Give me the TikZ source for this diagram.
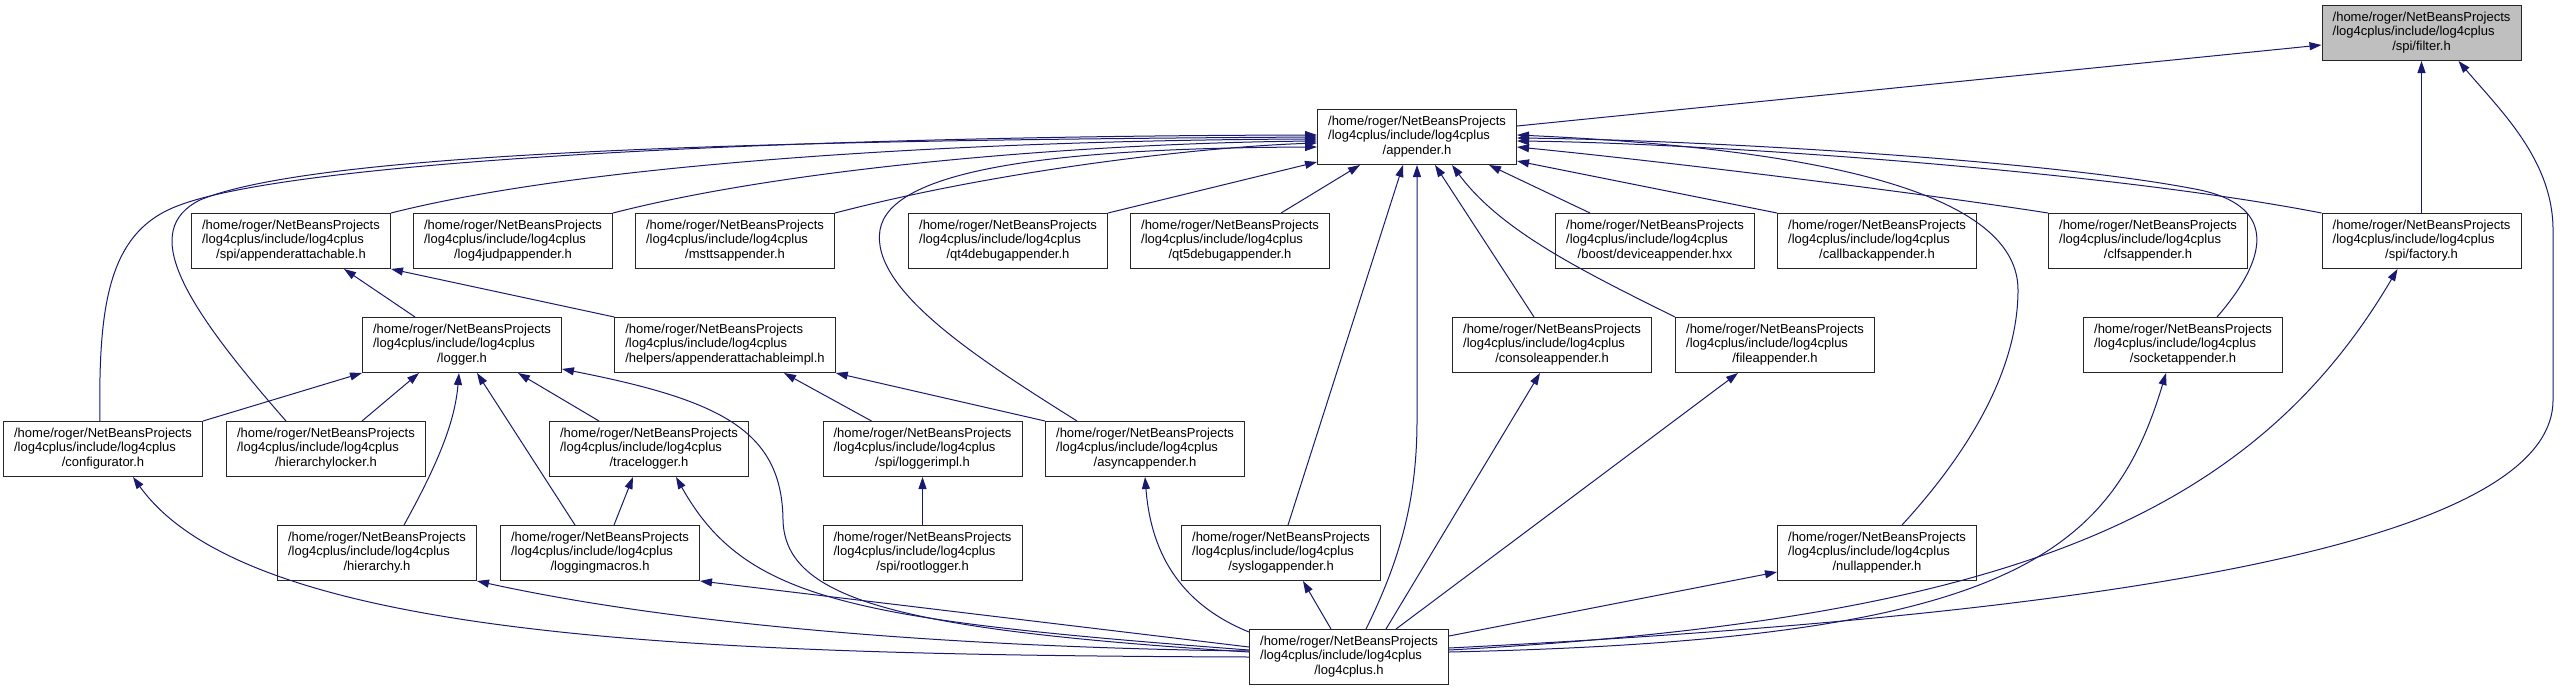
\documentclass[tikz,border=0pt]{standalone}
\usepackage{fontspec}
\setmainfont{Liberation Sans}
\usetikzlibrary{arrows.meta,calc}

\definecolor{edgeblue}{RGB}{25,25,112}
\definecolor{curgray}{RGB}{191,191,191}

% three line doxygen label, last line centred
\newcommand{\hpath}[1]{\begin{tabular}{@{}l@{}}/home/roger/NetBeansProjects\\/log4cplus/include/log4cplus\\\multicolumn{1}{@{}c@{}}{#1}\end{tabular}}

\tikzset{
  hdrbox/.style={draw=black!85, line width=1pt, fill=white, minimum width=199pt,
    minimum height=55pt, inner xsep=10.5pt, inner ysep=0pt,
    font=\fontsize{13}{14.8}\selectfont},
  cur/.style={hdrbox, fill=curgray},
  incl/.style={draw=edgeblue, line width=1pt,
    -{Triangle[length=12pt,width=8pt]}, color=edgeblue}
}

\begin{document}
\begin{tikzpicture}[x=1pt, y=-1pt]
    \useasboundingbox (0,0) rectangle (2563,691);
    % rows
    \node[cur] (filter) at (2421.5, 33) {\hpath{/spi/filter.h}};
    \node[hdrbox] (appender) at (1417, 137) {\hpath{/appender.h}};
    \node[hdrbox] (attachable) at (291, 241) {\hpath{/spi/appenderattachable.h}};
    \node[hdrbox] (udp) at (513, 241) {\hpath{/log4judpappender.h}};
    \node[hdrbox] (mstts) at (735, 241) {\hpath{/msttsappender.h}};
    \node[hdrbox] (qtfour) at (1008, 241) {\hpath{/qt4debugappender.h}};
    \node[hdrbox] (qtfive) at (1230, 241) {\hpath{/qt5debugappender.h}};
    \node[hdrbox] (device) at (1655, 241) {\hpath{/boost/deviceappender.hxx}};
    \node[hdrbox] (callback) at (1877, 241) {\hpath{/callbackappender.h}};
    \node[hdrbox] (clfs) at (2148, 241) {\hpath{/clfsappender.h}};
    \node[hdrbox] (factory) at (2421.5, 241) {\hpath{/spi/factory.h}};
    \node[hdrbox] (logger) at (462, 345) {\hpath{/logger.h}};
    \node[hdrbox] (attimpl) at (725, 345) {\hpath{/helpers/appenderattachableimpl.h}};
    \node[hdrbox] (console) at (1552, 345) {\hpath{/consoleappender.h}};
    \node[hdrbox] (fileapp) at (1775, 345) {\hpath{/fileappender.h}};
    \node[hdrbox] (socket) at (2183, 345) {\hpath{/socketappender.h}};
    \node[hdrbox] (configurator) at (103, 449) {\hpath{/configurator.h}};
    \node[hdrbox] (hlocker) at (326, 449) {\hpath{/hierarchylocker.h}};
    \node[hdrbox] (tracelogger) at (649, 449) {\hpath{/tracelogger.h}};
    \node[hdrbox] (loggerimpl) at (922.5, 449) {\hpath{/spi/loggerimpl.h}};
    \node[hdrbox] (async) at (1145, 449) {\hpath{/asyncappender.h}};
    \node[hdrbox] (hierarchy) at (377, 553) {\hpath{/hierarchy.h}};
    \node[hdrbox] (macros) at (600, 553) {\hpath{/loggingmacros.h}};
    \node[hdrbox] (rootlogger) at (922.5, 553) {\hpath{/spi/rootlogger.h}};
    \node[hdrbox] (syslog) at (1281, 553) {\hpath{/syslogappender.h}};
    \node[hdrbox] (nullapp) at (1877, 553) {\hpath{/nullappender.h}};
    \node[hdrbox] (logplus) at (1349, 657) {\hpath{/log4cplus.h}};

    % into filter.h
    \draw[incl] ($(appender.east)+(0,-11)$) -- ($(filter.west)+(0,12)$);
    \draw[incl] (factory.north) -- (filter.south);
    \draw[incl] ($(logplus.east)+(0,-9)$) .. controls (2000,620) and (2553,560) .. (2553,400)
      -- (2553,230) .. controls (2553,160) and (2500,110) .. ($(filter.south)+(37,0)$);

    % into appender.h
    \draw[incl] (attachable.north east) .. controls (600,160) and (1000,140) .. ($(appender.west)+(0,2)$);
    \draw[incl] (udp.north east) .. controls (800,165) and (1100,143) .. ($(appender.west)+(0,4)$);
    \draw[incl] (mstts.north east) .. controls (1000,170) and (1200,147) .. ($(appender.west)+(0,6)$);
    \draw[incl] (qtfour.north east) -- ($(appender.south west)+(0,-3)$);
    \draw[incl] ($(qtfive.north)+(51,0)$) -- ($(appender.south)+(-57,0)$);
    \draw[incl] ($(device.north west)+(35,0)$) -- ($(appender.south)+(72,0)$);
    \draw[incl] (callback.north west) -- ($(appender.south east)+(0,-4)$);
    \draw[incl] (clfs.north west) .. controls (1900,190) and (1650,160) .. ($(appender.east)+(0,10)$);
    \draw[incl] (factory.north west) .. controls (2100,170) and (1700,143) .. ($(appender.east)+(0,4)$);
    \draw[incl] ($(socket.north)+(34,0)$) .. controls (2275,250) and (2270,205) .. (2200,190)
      .. controls (2050,160) and (1700,140) .. ($(appender.east)+(0,1)$);
    \draw[incl] ($(nullapp.north)+(25,0)$) .. controls (1980,440) and (2018,360) .. (2018,290)
      .. controls (2018,200) and (1850,150) .. ($(appender.east)+(0,-2)$);
    \draw[incl] ($(console.north)+(-18,0)$) -- ($(appender.south)+(18,0)$);
    \draw[incl] (fileapp.north west) .. controls (1580,270) and (1500,230) .. ($(appender.south)+(35,0)$);
    \draw[incl] ($(syslog.north)+(7,0)$) -- ($(appender.south)+(-14,0)$);
    \draw[incl] ($(logplus.north)+(17,0)$) .. controls (1400,560) and (1417,500) .. (1417,420) -- (appender.south);
    \draw[incl] ($(configurator.north)+(-3,0)$) .. controls (98,300) and (110,230) .. (180,205)
      .. controls (300,160) and (800,136) .. ($(appender.west)+(0,-2)$);
    \draw[incl] ($(hlocker.north)+(-40,0)$) .. controls (180,300) and (140,230) .. (200,200)
      .. controls (320,150) and (800,140) .. (appender.west);
    \draw[incl] ($(async.north west)+(32,0)$) .. controls (980,360) and (870,290) .. (880,230)
      .. controls (890,170) and (1050,148) .. ($(appender.west)+(0,10)$);

    % logger.h and friends
    \draw[incl] ($(logger.north)+(-47,0)$) -- ($(attachable.south)+(53,0)$);
    \draw[incl] (attimpl.north west) -- (attachable.south east);
    \draw[incl] (configurator.north east) -- (logger.south west);
    \draw[incl] ($(hlocker.north)+(36,0)$) -- ($(logger.south)+(-43,0)$);
    \draw[incl] ($(hierarchy.north)+(27,0)$) .. controls (440,460) and (455,420) .. ($(logger.south)+(-3,0)$);
    \draw[incl] ($(macros.north)+(-25,0)$) -- ($(logger.south)+(15,0)$);
    \draw[incl] ($(tracelogger.north)+(-50,0)$) -- ($(logger.south)+(56,0)$);
    \draw[incl] ($(loggerimpl.north)+(-51,0)$) -- ($(attimpl.south)+(59,0)$);
    \draw[incl] (async.north west) -- (attimpl.south east);
    \draw[incl] (rootlogger.north) -- (loggerimpl.south);
    \draw[incl] ($(macros.north)+(14,0)$) -- ($(tracelogger.south)+(-16,0)$);

    % out of log4cplus.h
    \draw[incl] ($(logplus.west)+(0,-5)$) .. controls (900,630) and (785,600) .. (783,520)
      .. controls (782,430) and (720,400) .. ($(logger.east)+(0,24)$);
    \draw[incl] ($(logplus.west)+(0,-7)$) .. controls (850,620) and (745,600) .. ($(tracelogger.south)+(27,0)$);
    \draw[incl] ($(logplus.west)+(0,-10)$) -- (macros.south east);
    \draw[incl] ($(logplus.west)+(0,-6)$) .. controls (1000,648) and (700,630) .. (hierarchy.south east);
    \draw[incl] (logplus.west) .. controls (700,655) and (250,640) .. ($(configurator.south)+(30,0)$);
    \draw[incl] ($(logplus.north west)+(0,3)$) .. controls (1170,600) and (1150,540) .. (async.south);
    \draw[incl] ($(logplus.north)+(-18,0)$) -- ($(syslog.south)+(22,0)$);
    \draw[incl] ($(logplus.north)+(37,0)$) -- ($(console.south)+(-12,0)$);
    \draw[incl] ($(logplus.north)+(47,0)$) -- ($(fileapp.south)+(-37,0)$);
    \draw[incl] ($(logplus.east)+(0,-21)$) -- ($(nullapp.south west)+(0,-9)$);
    \draw[incl] ($(logplus.east)+(0,-5)$) .. controls (2000,640) and (2110,560) .. ($(socket.south)+(-17,0)$);
    \draw[incl] ($(logplus.east)+(0,-7)$) .. controls (2000,620) and (2250,520) .. ($(factory.south)+(-24,0)$);
  \end{tikzpicture}
\end{document}
